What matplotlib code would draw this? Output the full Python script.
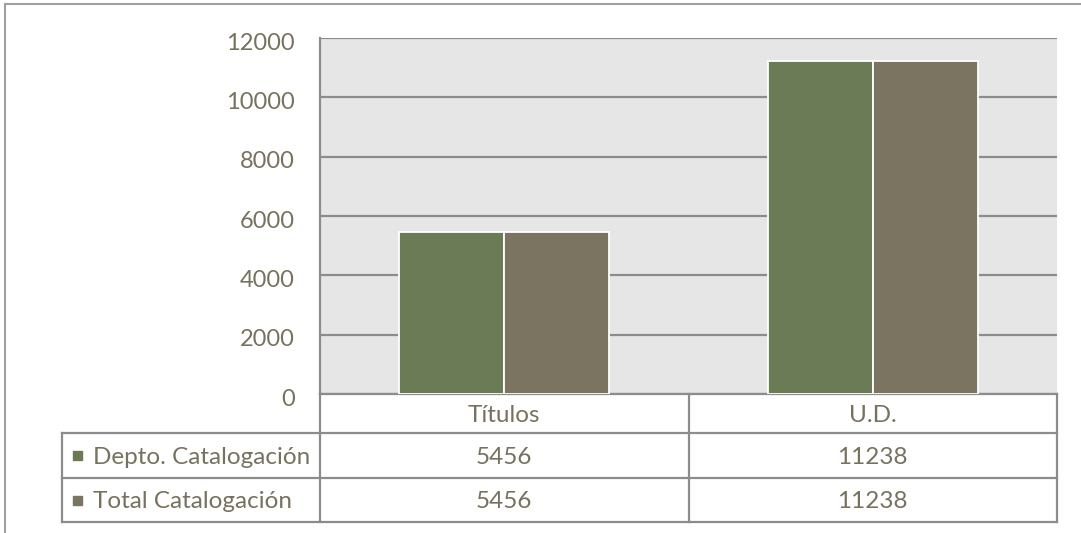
import matplotlib
matplotlib.use("Agg")
import matplotlib.pyplot as plt
from matplotlib.patches import Rectangle
from matplotlib.transforms import ScaledTranslation

categories = ["Títulos", "U.D."]
series_names = ["Depto. Catalogación", "Total Catalogación"]
depto_values = [5456, 11238]
total_values = [5456, 11238]
yticks = [0, 2000, 4000, 6000, 8000, 10000, 12000]

colors = ["#6B7B56", "#7A7461"]
text_color = "#77725F"
grid_color = "#8C8C8C"
font = "Lato"

W, H = 1081, 533
fig = plt.figure(figsize=(W / 100, H / 100), dpi=100)
fig.patch.set_facecolor("white")

# plot area in pixels
left, top, right, bottom = 320, 38, 1057, 394
ax = fig.add_axes([left / W, 1 - bottom / H, (right - left) / W, (bottom - top) / H])
ax.set_facecolor("#E6E6E6")
ax.set_xlim(-0.5, len(categories) - 0.5)
ax.set_ylim(0, 12000)

bar_w = 0.285
x = list(range(len(categories)))
for i, (name, vals) in enumerate(zip(series_names, [depto_values, total_values])):
    offs = (i - 0.5) * bar_w
    ax.bar([xi + offs for xi in x], vals, width=bar_w, color=colors[i],
           edgecolor="white", linewidth=1.3, zorder=3)

ax.set_yticks(yticks)
ax.set_yticklabels([str(v) for v in yticks], fontsize=17, color=text_color, family=font)
ax.tick_params(axis="y", length=0, pad=18)
ax.tick_params(axis="x", length=0, labelbottom=False)
shift = ScaledTranslation(0, -3 / 100, fig.dpi_scale_trans)
for lab in ax.get_yticklabels():
    lab.set_verticalalignment("center_baseline")
    lab.set_transform(lab.get_transform() + shift)
ax.yaxis.grid(True, color=grid_color, linewidth=1.6, zorder=1)
ax.set_axisbelow(True)
for s in ["top", "right", "bottom"]:
    ax.spines[s].set_visible(False)
ax.spines["left"].set_color(grid_color)
ax.spines["left"].set_linewidth(1.6)

# data table below axis (x in data coords, y in axes fraction)
tr = ax.get_xaxis_transform()
ph = bottom - top
row_edges = [0, -(433 - bottom) / ph, -(478 - bottom) / ph, -(522 - bottom) / ph]
label_left = -0.5 + (62 - left) / (right - left) * len(categories)
xmin, xmax = -0.5, len(categories) - 0.5
lw = 1.6
def hline(y, x0, x1):
    ax.plot([x0, x1], [y, y], transform=tr, color=grid_color, lw=lw, clip_on=False,
            solid_capstyle="projecting")
def vline(xv, y0, y1):
    ax.plot([xv, xv], [y0, y1], transform=tr, color=grid_color, lw=lw, clip_on=False,
            solid_capstyle="projecting")

hline(row_edges[0], xmin, xmax)
for y in row_edges[1:]:
    hline(y, label_left, xmax)
vline(xmin, row_edges[0], row_edges[3])
vline(xmax, row_edges[0], row_edges[3])
for k in range(1, len(categories)):
    vline(k - 0.5, row_edges[0], row_edges[3])
vline(label_left, row_edges[1], row_edges[3])

fs = 17.5
for j, c in enumerate(categories):
    ym = (row_edges[0] + row_edges[1]) / 2
    ax.text(j, ym, c, transform=tr, ha="center", va="center_baseline", fontsize=fs,
            color=text_color, family=font)
for r, (name, vals) in enumerate(zip(series_names, [depto_values, total_values])):
    ym = (row_edges[r + 1] + row_edges[r + 2]) / 2
    for j, v in enumerate(vals):
        ax.text(j, ym, str(v), transform=tr, ha="center", va="center_baseline", fontsize=fs,
                color=text_color, family=font)
    # legend key square in pixel space
    yp = H - (bottom - ym * ph)
    fig.patches.append(Rectangle((73 / W, (yp - 4.5) / H), 9 / W, 9 / H,
                                 transform=fig.transFigure, color=colors[r], figure=fig))
    fig.text(93 / W, yp / H, name, ha="left", va="center_baseline", fontsize=fs,
             color=text_color, family=font)

# outer chart border (top and left visible)
fig.add_artist(plt.Line2D([5 / W, 1], [1 - 4 / H, 1 - 4 / H], transform=fig.transFigure,
                          color="#A0A0A0", lw=1.5))
fig.add_artist(plt.Line2D([5 / W, 5 / W], [0, 1 - 4 / H], transform=fig.transFigure,
                          color="#A0A0A0", lw=1.5))

fig.savefig("out.png", dpi=100)
